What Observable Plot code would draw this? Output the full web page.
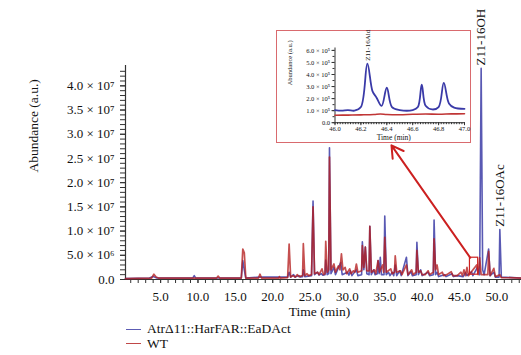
<!DOCTYPE html>
<html><head><meta charset="utf-8">
<script src="https://cdn.jsdelivr.net/npm/d3@7"></script>
<script src="https://cdn.jsdelivr.net/npm/@observablehq/plot@0.6"></script>
<style>
body{margin:0;background:#fff;font-family:"Liberation Serif","DejaVu Serif",serif;}
#wrap{position:relative;width:521px;height:355px;overflow:hidden;}
#wrap svg text{font-family:"Liberation Serif","DejaVu Serif",serif !important;}
#inset{position:absolute;left:276px;top:30px;width:195px;height:113px;border:1.5px solid #d96a6e;box-sizing:border-box;background:#fff;}
#inset svg{display:block;overflow:visible;}
#legend{position:absolute;left:126px;top:322px;font-size:13.5px;line-height:14.5px;color:#111;}
#legend .row{display:flex;align-items:center;white-space:nowrap;}
#legend .sw{display:inline-block;width:15px;height:0;border-top:1.6px solid;margin-right:6px;}
</style></head><body><div id="wrap"><div id="inset"></div><div id="legend"></div></div>
<script>
// ---- data: main chromatogram (time in min, abundance in units of 10^6 a.u.) ----
const seriesNames = ["Atr\u039411::HarFAR::EaDAct", "WT"];
const blueTime = [0.3,3.5,4.0,4.5,9.3,9.5,9.7,15.8,16.0,16.2,16.4,18.2,22.0,22.2,22.4,22.8,23.0,23.5,23.7,24.0,24.1,24.3,25.2,25.4,25.6,26.0,26.2,26.5,26.7,27.0,27.1,27.3,27.5,27.6,27.8,28.2,28.4,29.1,29.3,30.0,30.2,30.4,30.6,31.2,31.4,31.9,32.0,32.2,32.4,32.6,32.9,33.0,33.2,33.5,33.7,34.0,34.1,34.25,34.4,34.55,34.9,35.0,35.2,35.5,35.7,36.0,36.2,36.4,36.6,37.0,37.2,37.9,38.1,38.5,38.7,39.2,39.3,39.5,39.8,40.0,40.8,41.0,41.5,41.6,41.8,42.0,42.2,43.0,43.2,44.0,44.2,44.7,45.5,45.8,46.0,46.6,46.8,47.4,47.7,47.9,48.1,48.3,48.9,49.1,49.6,49.8,50.3,50.4,50.6,53.3];
const blueAbundM = [0.2,0.3,0.6,0.3,0.3,0.8,0.3,0.3,3.9,2.0,0.3,0.5,0.5,1.5,0.5,1.0,0.5,0.8,0.5,0.6,2.0,0.6,0.8,16.2,1.0,1.5,0.9,1.2,0.9,1.0,4.0,1.0,1.2,27.2,1.2,2.5,1.0,3.5,1.0,1.5,0.9,1.8,0.8,2.0,0.8,1.0,7.8,2.0,6.7,1.2,1.0,11.0,1.0,2.0,1.0,1.2,3.9,1.2,4.6,1.0,1.0,13.1,1.0,1.5,0.8,1.5,0.8,3.0,0.8,1.8,0.8,4.6,0.8,1.6,0.8,1.0,7.7,1.0,2.0,0.8,1.5,0.8,1.0,12.3,1.0,1.5,0.6,1.0,0.6,1.2,0.6,0.8,0.6,1.4,0.8,1.6,0.8,2.5,1.0,43.6,2.0,1.0,6.3,0.8,1.5,0.5,0.5,10.3,0.5,0.3];
const redTime = [0.3,3.8,4.1,4.4,4.7,12.5,12.7,12.9,15.8,16.0,16.2,16.4,18.1,18.3,18.5,20.8,20.9,21.0,22.0,22.2,22.4,22.7,23.0,23.3,23.5,24.0,24.1,24.3,24.6,24.8,25.2,25.4,25.6,26.0,26.2,26.6,26.8,27.0,27.1,27.3,27.5,27.6,27.8,28.2,28.4,28.8,29.0,29.2,29.4,29.7,29.9,30.3,30.5,30.8,31.0,31.2,31.4,31.9,32.0,32.2,32.4,32.6,32.9,33.0,33.2,33.6,33.8,34.1,34.3,34.7,34.85,35.0,35.2,35.8,36.0,36.3,36.4,36.6,37.1,37.3,37.9,38.1,38.6,38.8,39.2,39.3,39.5,39.8,40.0,40.4,40.8,41.0,41.5,41.6,41.8,42.0,42.2,42.7,42.9,43.3,43.9,44.1,44.7,45.2,45.4,45.6,45.8,46.0,46.2,47.3,47.5,47.7,47.9,48.8,48.9,49.1,49.6,49.8,50.4,50.6,53.3];
const redAbundM = [0.2,0.3,1.1,0.5,0.3,0.3,0.7,0.3,0.3,6.3,5.5,0.3,0.3,1.1,0.3,0.3,0.6,0.3,0.4,7.3,0.5,0.8,0.5,1.0,0.6,0.8,7.4,0.8,1.2,0.8,1.0,15.0,1.2,1.5,1.0,2.2,1.0,1.2,7.9,1.5,2.0,25.3,2.0,3.2,1.5,2.8,2.0,5.3,2.0,2.5,1.2,2.2,1.2,1.8,1.5,3.2,1.5,1.8,7.0,2.5,6.7,1.8,1.8,11.0,1.5,2.0,1.2,3.9,1.5,3.0,1.5,8.7,1.5,2.2,1.2,1.5,4.9,1.5,1.8,1.0,3.0,1.0,2.0,1.0,1.5,6.0,1.5,1.8,1.0,1.0,1.8,1.0,1.5,8.4,2.0,3.0,1.0,1.5,0.8,1.0,1.6,0.8,0.8,1.5,0.8,2.0,0.8,2.5,0.8,3.0,1.0,4.5,1.0,1.0,5.8,0.8,2.3,0.6,1.0,0.4,0.3];

// ---- data: inset (46.0 - 47.0 min), abundance in units of 10^5 a.u. ----
const insetBlueTime = [46.00,46.05,46.10,46.15,46.20,46.25,46.29,46.32,46.36,46.40,46.44,46.50,46.60,46.64,46.67,46.70,46.75,46.80,46.84,46.88,46.92,47.00];
const insetBlueAbund5 = [1.05,1.0,1.05,1.0,1.3,4.9,2.6,2.1,1.4,2.9,1.3,1.05,1.05,1.3,3.15,1.4,1.1,1.3,3.3,1.6,1.25,1.15];
const insetRedTime = [46.0,46.1,46.2,46.3,46.35,46.4,46.5,46.6,46.7,46.8,46.9,47.0];
const insetRedAbund5 = [0.62,0.63,0.65,0.68,0.72,0.68,0.66,0.7,0.72,0.7,0.73,0.74];

// ---- annotations ----
const peakLabels = ["Z11-16OH", "Z11-16OAc"];
const peakTimes = [47.9, 50.4];
const peakHeightsM = [43.6, 10.3];
const insetPeakLabel = ["Z11-16Ald"];
const insetPeakTime = [46.25];
const insetPeakHeight5 = [4.9];
const zoomBoxTime = [46.4, 47.5];
const zoomBoxAbundM = [1.0, 4.5];
const arrowFrom = [46.44, 4.5];   // [time, 10^6 a.u.]
const arrowTo = [35.9, 27.7];

// ---- ticks ----
const xMajorTicks = [5,10,15,20,25,30,35,40,45,50];
const xMinorTicks = d3.range(1, 54, 1);
const yMajorTicks = [0,5e6,10e6,15e6,20e6,25e6,30e6,35e6,40e6];
const yTickLabels = ["0.0","5.0 \u00d7 10\u2076","1.0 \u00d7 10\u2077","1.5 \u00d7 10\u2077","2.0 \u00d7 10\u2077","2.5 \u00d7 10\u2077","3.0 \u00d7 10\u2077","3.5 \u00d7 10\u2077","4.0 \u00d7 10\u2077"];
const yMinorTicks = d3.range(0, 44e6, 1e6);
const insetXMajor = [46.0,46.2,46.4,46.6,46.8,47.0];
const insetXMinor = d3.range(46.0, 47.001, 0.02);
const insetYMajor = [0,1e5,2e5,3e5,4e5,5e5,6e5];
const insetYLabels = ["0.0","1.0 \u00d7 10\u2075","2.0 \u00d7 10\u2075","3.0 \u00d7 10\u2075","4.0 \u00d7 10\u2075","5.0 \u00d7 10\u2075","6.0 \u00d7 10\u2075"];
const insetYMinor = d3.range(0, 6.2e5, 0.5e5);

const BLUE = "#2f2fa0", RED = "#b51d1d", AX = "#333";
const FONT = "Liberation Serif, DejaVu Serif, serif";

const zipTV = (T, V, k) => T.map((t, i) => ({t, v: V[i] * k}));
const blue = zipTV(blueTime, blueAbundM, 1e6);
const red = zipTV(redTime, redAbundM, 1e6);
const peaks = peakLabels.map((label, i) => ({label, t: peakTimes[i], v: peakHeightsM[i] * 1e6}));
const yLab = new Map(yMajorTicks.map((d, i) => [d, yTickLabels[i]]));
const iyLab = new Map(insetYMajor.map((d, i) => [d, insetYLabels[i]]));

const main = Plot.plot({
  width: 521, height: 320,
  marginLeft: 125, marginRight: 0, marginTop: 65, marginBottom: 41,
  x: {domain: [0.3, 53.3]},
  y: {domain: [0, 44.2e6]},
  style: {fontFamily: FONT, fontSize: "13px", color: "#111", background: "transparent"},
  marks: [
    Plot.axisY({ticks: yMinorTicks, tickSize: 5, tickFormat: () => "", stroke: AX, label: null}),
    Plot.axisY({ticks: yMajorTicks, tickSize: 5, tickPadding: 6, tickFormat: d => yLab.get(d), stroke: AX, fill: "#111", fontFamily: FONT, label: null}),
    Plot.axisX({ticks: xMinorTicks, tickSize: 4, tickFormat: () => "", stroke: AX, label: null}),
    Plot.axisX({ticks: xMajorTicks, tickSize: 4, tickPadding: 8, tickFormat: d => d.toFixed(1), stroke: AX, fill: "#111", fontFamily: FONT, label: null}),
    Plot.ruleY([0], {stroke: AX, strokeWidth: 1.2}),
    Plot.ruleX([0.3], {stroke: AX, strokeWidth: 1.2}),
    Plot.line(blue, {x: "t", y: "v", stroke: BLUE, strokeWidth: 1.6, strokeOpacity: 0.8}),
    Plot.line(red, {x: "t", y: "v", stroke: RED, strokeWidth: 1.7, strokeOpacity: 0.78}),
    Plot.rect([{x1: zoomBoxTime[0], x2: zoomBoxTime[1], y1: zoomBoxAbundM[0] * 1e6, y2: zoomBoxAbundM[1] * 1e6}], {x1: "x1", x2: "x2", y1: "y1", y2: "y2", fill: "none", stroke: "#cc2020", strokeWidth: 1.2}),
    Plot.arrow([{x1: arrowFrom[0], y1: arrowFrom[1] * 1e6, x2: arrowTo[0], y2: arrowTo[1] * 1e6}], {x1: "x1", y1: "y1", x2: "x2", y2: "y2", stroke: "#cc2020", strokeWidth: 2, headLength: 10, inset: 0}),
    Plot.text(peaks, {x: "t", y: "v", text: "label", rotate: -90, textAnchor: "start", lineAnchor: "middle", dy: -3, fontSize: 13, fontFamily: FONT, fill: "#111"}),
    Plot.text(["Abundance (a.u.)"], {frameAnchor: "left", dx: -92, rotate: -90, fontSize: 13.5, fontFamily: FONT, fill: "#111"}),
    Plot.text(["Time (min)"], {frameAnchor: "bottom", dy: 32, dx: -4, lineAnchor: "middle", fontSize: 13.5, fontFamily: FONT, fill: "#111"})
  ]
});
document.getElementById("wrap").prepend(main);

const inset = Plot.plot({
  width: 192, height: 110,
  marginLeft: 57.5, marginRight: 5, marginTop: 16.5, marginBottom: 18.8,
  x: {domain: [46.0, 47.0]},
  y: {domain: [0, 6.2e5]},
  style: {fontFamily: FONT, fontSize: "6.5px", color: "#111", background: "#fff"},
  marks: [
    Plot.axisY({ticks: insetYMinor, tickSize: 2, tickFormat: () => "", stroke: AX, label: null}),
    Plot.axisY({ticks: insetYMajor, tickSize: 3, tickPadding: 2, tickFormat: d => iyLab.get(d), stroke: AX, fill: "#111", fontFamily: FONT, label: null}),
    Plot.axisX({ticks: insetXMinor, tickSize: 2, tickFormat: () => "", stroke: AX, label: null}),
    Plot.axisX({ticks: insetXMajor, tickSize: 3, tickPadding: 0.5, tickFormat: d => d.toFixed(1), stroke: AX, fill: "#111", fontFamily: FONT, label: null}),
    Plot.ruleY([0], {stroke: AX, strokeWidth: 1}),
    Plot.ruleX([46.0], {stroke: AX, strokeWidth: 1}),
    Plot.line(zipTV(insetRedTime, insetRedAbund5, 1e5), {x: "t", y: "v", stroke: "#c03535", strokeWidth: 1.6, curve: "catmull-rom"}),
    Plot.line(zipTV(insetBlueTime, insetBlueAbund5, 1e5), {x: "t", y: "v", stroke: "#3a3aa8", strokeWidth: 1.8, curve: "catmull-rom"}),
    Plot.text(insetPeakLabel.map((label, i) => ({label, t: insetPeakTime[i], v: insetPeakHeight5[i] * 1e5})), {x: "t", y: "v", text: "label", rotate: -90, textAnchor: "start", lineAnchor: "middle", dy: -3, fontSize: 7, fontFamily: FONT, fill: "#111"}),
    Plot.text(["Abundance (a.u.)"], {frameAnchor: "left", dx: -45, rotate: -90, fontSize: 6.5, fontFamily: FONT, fill: "#111"}),
    Plot.text(["Time (min)"], {frameAnchor: "bottom", dy: 14.5, dx: -6, lineAnchor: "middle", fontSize: 7.5, fontFamily: FONT, fill: "#111"})
  ]
});
document.getElementById("inset").append(inset);

const legendColors = ["#5c5cb4", "#c04848"];
const legend = document.getElementById("legend");
seriesNames.forEach((name, i) => {
  const row = document.createElement("div");
  row.className = "row";
  const sw = document.createElement("span");
  sw.className = "sw";
  sw.style.borderTopColor = legendColors[i];
  const tx = document.createElement("span");
  tx.textContent = name;
  row.append(sw, tx);
  legend.append(row);
});
</script>
</body></html>
